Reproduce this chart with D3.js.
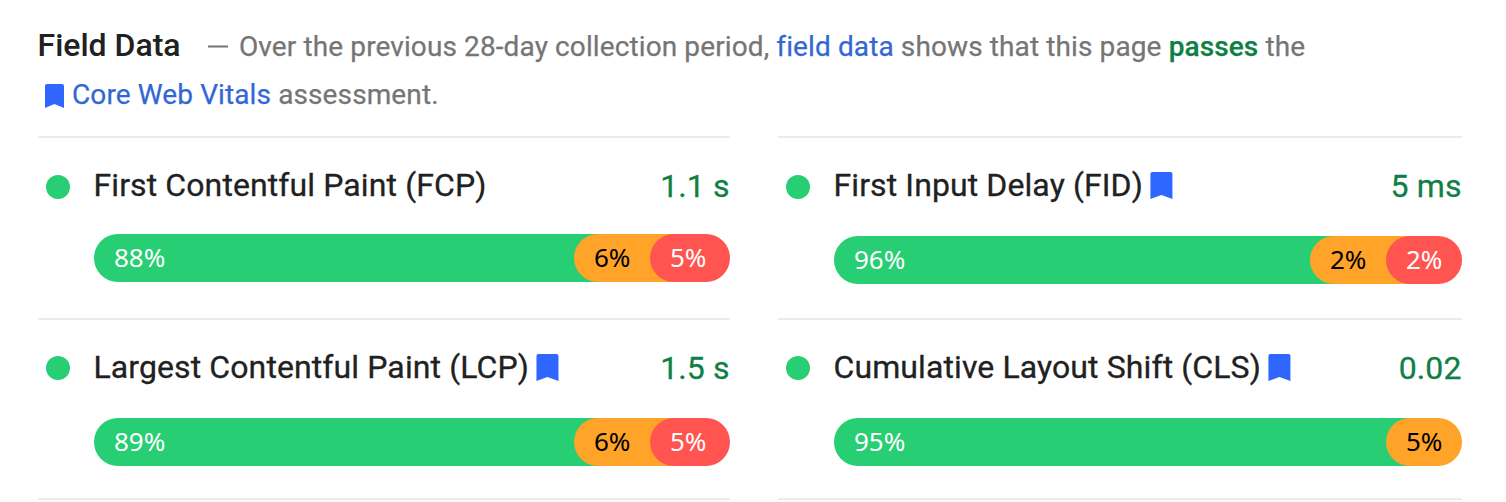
<!DOCTYPE html>
<html>
<head>
<meta charset="utf-8">
<script src="https://cdnjs.cloudflare.com/ajax/libs/d3/7.8.5/d3.min.js"></script>
<style>
  html, body { margin: 0; padding: 0; background: #fff; }
  svg { display: block; }
  text { font-family: Roboto, sans-serif; }
</style>
</head>
<body>
<svg id="chart" width="1506" height="502"></svg>
<script>
// values
const metricNames = ["First Contentful Paint (FCP)", "First Input Delay (FID)", "Largest Contentful Paint (LCP)", "Cumulative Layout Shift (CLS)"];
const metricValues = ["1.1 s", "5 ms", "1.5 s", "0.02"];
const hasBookmark = [false, true, true, true];
const goodPct = [88, 96, 89, 95];
const needsPct = [6, 2, 6, 5];
const poorPct = [5, 2, 5, 0];

const green = "#27ce74", orange = "#ffa329", red = "#ff5450";
const textGreen = "#0f8043", blue = "#3367d6", mark = "#2f66ff", grey = "#757575", dark = "#212121", rule = "#ebebeb";

const svg = d3.select("#chart");

// bookmark glyph, w wide and h high, top left at (x, y)
function bookmark(x, y, w, h) {
  svg.append("path")
    .attr("fill", mark)
    .attr("d", "M" + (x + 2) + "," + y + "h" + (w - 4) + "q2,0 2,2v" + (h - 2) + "l-" + (w / 2) + ",-4l-" + (w / 2) + ",4v-" + (h - 2) + "q0,-2 2,-2z");
}

// header
svg.append("text").attr("x", 37.5).attr("y", 56).attr("font-size", 32).attr("font-weight", 500).attr("fill", dark).text("Field Data");
svg.append("rect").attr("x", 208).attr("y", 45.5).attr("width", 20).attr("height", 2).attr("fill", grey);
const line1 = svg.append("text").attr("x", 239).attr("y", 56).attr("font-size", 28).attr("letter-spacing", 0.11)
  .attr("fill", grey).attr("stroke", grey).style("stroke-width", 0.25);
line1.append("tspan").text("Over the previous 28-day collection period, ");
line1.append("tspan").attr("fill", blue).attr("stroke", blue).text("field data");
line1.append("tspan").text(" shows that this page ");
line1.append("tspan").attr("fill", textGreen).attr("stroke", textGreen).attr("font-weight", 500).text("passes");
line1.append("tspan").text(" the");
bookmark(45, 84, 19, 24);
const line2 = svg.append("text").attr("x", 72).attr("y", 104).attr("font-size", 28).attr("letter-spacing", 0.11)
  .attr("fill", grey).attr("stroke", grey).style("stroke-width", 0.25);
line2.append("tspan").attr("fill", blue).attr("stroke", blue).text("Core Web Vitals");
line2.append("tspan").text(" assessment.");

// the two columns
const columns = [
  { rule: [38, 730], dot: 58, bar: [94, 730], minSeg: 76, endSeg: 80 },
  { rule: [778, 1462], dot: 798, bar: [834, 1462], minSeg: 76, endSeg: 76 }
];
const barTop = [234, 236, 418, 418];
const titleBase = [196, 196, 378, 378];
const dotY = [187, 187, 368, 368];
const barH = 48;
const r = barH / 2;

columns.forEach(c => {
  [137, 319, 499].forEach(y => {
    svg.append("line").attr("x1", c.rule[0]).attr("x2", c.rule[1]).attr("y1", y).attr("y2", y)
      .attr("stroke", rule).attr("stroke-width", 2);
  });
});

metricNames.forEach((name, i) => {
  const c = columns[i % 2];
  const x = d3.scaleLinear().domain([0, 100]).range([0, c.bar[1] - c.bar[0]]);
  svg.append("circle").attr("cx", c.dot).attr("cy", dotY[i]).attr("r", 12).attr("fill", green);
  const title = svg.append("text").attr("x", c.bar[0] - 0.5).attr("y", titleBase[i]).attr("font-size", 32).attr("letter-spacing", 0.1)
    .attr("fill", dark).attr("stroke", dark).style("stroke-width", 0.3).text(name);
  if (hasBookmark[i]) {
    const tw = title.node().getComputedTextLength();
    bookmark(c.bar[0] + tw + 7, titleBase[i] - 24, 22, 27);
  }
  svg.append("text").attr("x", c.bar[1] - 0.5).attr("y", titleBase[i] + 1).attr("text-anchor", "end")
    .attr("font-size", 32).attr("letter-spacing", 0.1).attr("fill", textGreen).attr("stroke", textGreen).style("stroke-width", 0.3).text(metricValues[i]);

  // small segments keep a minimum width, so they are stacked back from the right end
  const poorStart = c.bar[1] - (poorPct[i] > 0 ? Math.max(c.endSeg, x(poorPct[i])) : 0);
  const needsStart = poorStart - (poorPct[i] > 0 ? Math.max(c.minSeg, x(needsPct[i])) : c.minSeg);
  const segs = [
    { v: goodPct[i], x0: c.bar[0], x1: needsStart + barH, fill: green, ink: "#fff" },
    { v: needsPct[i], x0: needsStart, x1: poorPct[i] > 0 ? poorStart + barH : c.bar[1], fill: orange, ink: "#000" },
    { v: poorPct[i], x0: poorStart, x1: c.bar[1], fill: red, ink: "#fff" }
  ].filter(s => s.v > 0);

  const g = svg.append("g");
  g.selectAll("rect").data(segs).enter().append("rect")
    .attr("x", s => s.x0).attr("y", barTop[i])
    .attr("width", s => s.x1 - s.x0).attr("height", barH)
    .attr("rx", r).attr("fill", s => s.fill);
  g.selectAll("text").data(segs).enter().append("text")
    .attr("x", s => s.x0 + 20).attr("y", barTop[i] + 33)
    .attr("font-size", 26).attr("fill", s => s.ink)
    .style("font-family", "'Noto Sans', sans-serif")
    .text(s => s.v + "%");
});
</script>
</body>
</html>
